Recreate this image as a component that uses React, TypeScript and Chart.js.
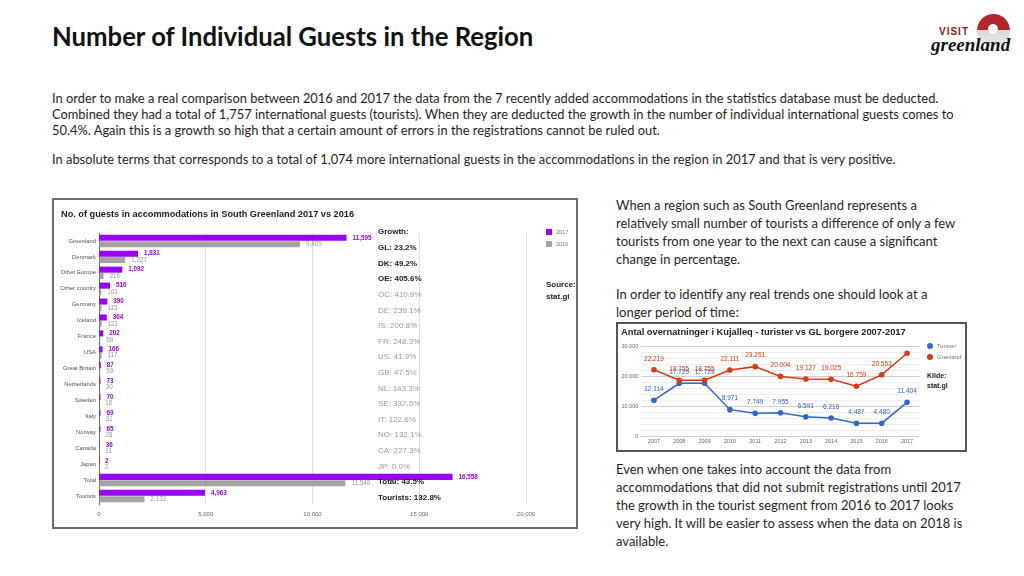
import React, { useEffect, useRef } from 'react';
import { Chart, registerables } from 'chart.js';

Chart.register(...registerables);

// ---------- Left chart data ----------
const guestCategories = [
  'Greenland', 'Denmark', 'Other Europe', 'Other country', 'Germany', 'Iceland', 'France', 'USA',
  'Great Britain', 'Netherlands', 'Sweden', 'Italy', 'Norway', 'Canada', 'Japan', 'Total', 'Tourists',
];
const guests2017 = [11595, 1831, 1092, 516, 390, 364, 202, 166, 87, 73, 70, 69, 65, 36, 2, 16558, 4963];
const guests2016 = [9409, 1227, 216, 101, 115, 121, 58, 117, 59, 30, 16, 31, 28, 11, 2, 11540, 2132];
const guestTicks = [0, 5000, 10000, 15000, 20000];
const growthLabels = [
  'GL: 23.2%', 'DK: 49.2%', 'OE: 405.6%', 'OC: 410.9%', 'DE: 239.1%', 'IS: 200.8%', 'FR: 248.3%',
  'US: 41.9%', 'GB: 47.5%', 'NL: 143.3%', 'SE: 337.5%', 'IT: 122.6%', 'NO: 132.1%', 'CA: 227.3%',
  'JP: 0.0%', 'Total: 43.5%', 'Tourists: 132.8%',
];
const growthHighlighted = [
  true, true, true, false, false, false, false, false, false, false, false, false, false, false, false, true, true,
];

// ---------- Right chart data ----------
const years = ['2007', '2008', '2009', '2010', '2011', '2012', '2013', '2014', '2015', '2016', '2017'];
const turister = [12114, 17729, 17729, 8971, 7749, 7955, 6591, 6216, 4487, 4480, 11404];
const groenland = [22219, 18755, 18755, 22111, 23251, 20004, 19127, 19025, 16759, 20553, 27700];
const groenlandLabelShown = [true, true, true, true, true, true, true, true, true, true, false];
const nightTicks = [0, 10000, 20000, 30000];

const PURPLE = '#9900ff';
const GREY = '#a3a3a3';
const BLUE = '#3366cc';
const RED = '#dc3912';
const CF = 'Arial, "Liberation Sans", sans-serif';

const fmtEn = (v: number) => v.toLocaleString('en-US');
const fmtDa = (v: number) => String(v).replace(/\B(?=(\d{3})+(?!\d))/g, '.');

function GuestsChart() {
  const ref = useRef<HTMLCanvasElement>(null);
  useEffect(() => {
    if (!ref.current) return;
    const barValues = {
      id: 'barValues',
      afterDatasetsDraw(chart: any) {
        const ctx = chart.ctx;
        ctx.save();
        ctx.textBaseline = 'middle';
        ctx.textAlign = 'left';
        chart.data.datasets.forEach((ds: any, di: number) => {
          const meta = chart.getDatasetMeta(di);
          meta.data.forEach((bar: any, i: number) => {
            ctx.fillStyle = di === 0 ? PURPLE : '#9a9a9a';
            ctx.font = (di === 0 ? 'bold ' : '') + '6.3px ' + CF;
            ctx.fillText(fmtEn(ds.data[i]), bar.x + 6, bar.y);
          });
        });
        ctx.restore();
      },
    };
    const annotations = {
      id: 'guestAnnotations',
      afterDraw(chart: any) {
        const ctx = chart.ctx;
        ctx.save();
        ctx.textBaseline = 'middle';
        ctx.textAlign = 'left';
        ctx.fillStyle = '#222';
        ctx.font = 'bold 9.2px ' + CF;
        ctx.fillText('No. of guests in accommodations in South Greenland 2017 vs 2016', 7, 14);
        ctx.font = 'bold 8px ' + CF;
        ctx.fillText('Growth:', 324, 32);
        growthLabels.forEach((g, i) => {
          ctx.fillStyle = growthHighlighted[i] ? '#222' : '#9a9a9a';
          ctx.font = (growthHighlighted[i] ? 'bold ' : '') + '8px ' + CF;
          ctx.fillText(g, 324, 48 + i * 15.6);
        });
        // legend
        const items = [
          { t: '2017', c: PURPLE },
          { t: '2016', c: GREY },
        ];
        items.forEach((it, i) => {
          ctx.fillStyle = it.c;
          ctx.fillRect(492, 29 + i * 12, 6, 6);
          ctx.fillStyle = '#777';
          ctx.font = '5.5px ' + CF;
          ctx.fillText(it.t, 502, 32 + i * 12);
        });
        ctx.fillStyle = '#222';
        ctx.font = 'bold 8px ' + CF;
        ctx.fillText('Source:', 492, 85);
        ctx.fillText('stat.gl', 492, 97);
        ctx.restore();
      },
    };
    const chart = new Chart(ref.current, {
      type: 'bar',
      data: {
        labels: guestCategories,
        datasets: [
          { label: '2017', data: guests2017, backgroundColor: PURPLE, categoryPercentage: 0.8, barPercentage: 0.95 },
          { label: '2016', data: guests2016, backgroundColor: GREY, categoryPercentage: 0.8, barPercentage: 0.95 },
        ],
      },
      options: {
        indexAxis: 'y',
        responsive: false,
        animation: false,
        layout: { padding: { top: 33, right: 50, left: 0, bottom: 0 } },
        plugins: { legend: { display: false }, title: { display: false }, tooltip: { enabled: false } },
        scales: {
          x: {
            min: 0,
            max: 20000,
            afterBuildTicks: (s: any) => { s.ticks = guestTicks.map((v) => ({ value: v })); },
            afterFit: (s: any) => { s.height = 23; },
            ticks: { font: { size: 6, family: CF }, color: '#666', padding: 7, callback: (v: any) => fmtEn(Number(v)) },
            grid: { color: '#e0e0e0', drawTicks: false },
            border: { display: false },
          },
          y: {
            afterFit: (s: any) => { s.width = 45; },
            ticks: { font: { size: 5.9, family: CF }, color: '#555', padding: 3 },
            grid: { display: false, drawTicks: false },
            border: { color: '#666', width: 1 },
          },
        },
      } as any,
      plugins: [barValues, annotations],
    });
    return () => chart.destroy();
  }, []);
  return <canvas ref={ref} width={522} height={327} style={{ display: 'block' }} />;
}

function NightsChart() {
  const ref = useRef<HTMLCanvasElement>(null);
  useEffect(() => {
    if (!ref.current) return;
    const pointValues = {
      id: 'pointValues',
      afterDatasetDraw(chart: any, args: any) {
        const ctx = chart.ctx;
        const ds = chart.data.datasets[args.index];
        ctx.save();
        ctx.textBaseline = 'middle';
        ctx.textAlign = 'center';
        ctx.font = '6.5px ' + CF;
        ctx.fillStyle = ds.borderColor;
        args.meta.data.forEach((pt: any, i: number) => {
          if (ds.showLabel && !ds.showLabel[i]) return;
          ctx.fillText(fmtDa(ds.data[i]), pt.x, pt.y - 11);
        });
        ctx.restore();
      },
    };
    const annotations = {
      id: 'nightAnnotations',
      afterDraw(chart: any) {
        const ctx = chart.ctx;
        ctx.save();
        ctx.textBaseline = 'middle';
        ctx.textAlign = 'left';
        ctx.fillStyle = '#222';
        ctx.font = 'bold 9.3px ' + CF;
        ctx.fillText('Antal overnatninger i Kujalleq - turister vs GL borgere 2007-2017', 3, 8);
        const items = [
          { t: 'Turister', c: BLUE },
          { t: 'Grønland', c: RED },
        ];
        items.forEach((it, i) => {
          ctx.fillStyle = it.c;
          ctx.beginPath();
          ctx.arc(312, 22 + i * 11, 3, 0, Math.PI * 2);
          ctx.fill();
          ctx.fillStyle = '#777';
          ctx.font = '5.8px ' + CF;
          ctx.fillText(it.t, 319, 22 + i * 11);
        });
        ctx.fillStyle = '#222';
        ctx.font = 'bold 7px ' + CF;
        ctx.fillText('Kilde:', 309, 52);
        ctx.fillText('stat.gl', 309, 62);
        ctx.restore();
      },
    };
    const chart = new Chart(ref.current, {
      type: 'line',
      data: {
        labels: years,
        datasets: [
          {
            label: 'Turister', data: turister, borderColor: BLUE, backgroundColor: BLUE,
            borderWidth: 1.5, pointRadius: 2.8, pointBorderWidth: 0, order: 2,
          },
          {
            label: 'Grønland', data: groenland, borderColor: RED, backgroundColor: RED,
            borderWidth: 1.5, pointRadius: 2.8, pointBorderWidth: 0, order: 1, showLabel: groenlandLabelShown,
          } as any,
        ],
      },
      options: {
        responsive: false,
        animation: false,
        layout: { padding: { top: 22.3, right: 45.3, left: 0, bottom: 0 } },
        plugins: { legend: { display: false }, title: { display: false }, tooltip: { enabled: false } },
        scales: {
          x: {
            offset: true,
            afterFit: (s: any) => { s.height = 13.3; },
            ticks: { font: { size: 5.5, family: CF }, color: '#666', padding: 1 },
            grid: { display: false, drawTicks: false },
            border: { display: false },
          },
          y: {
            min: 0,
            max: 30000,
            afterFit: (s: any) => { s.width = 23.3; },
            ticks: {
              stepSize: 2000,
              maxTicksLimit: 100,
              autoSkip: false,
              font: { size: 5.5, family: CF },
              color: '#666',
              padding: 3,
              callback: (v: any) => (nightTicks.includes(Number(v)) ? fmtDa(Number(v)) : ''),
            },
            grid: {
              drawTicks: false,
              color: (c: any) => (c.tick && nightTicks.includes(c.tick.value) ? '#cfcfcf' : '#eeeeee'),
            },
            border: { display: false },
          },
        },
      } as any,
      plugins: [pointValues, annotations],
    });
    return () => chart.destroy();
  }, []);
  return <canvas ref={ref} width={347} height={126} style={{ display: 'block' }} />;
}

const TXT = '#1f1f1f';
const LATO = 'Lato, "Open Sans", sans-serif';

export default function App() {
  const abs = (left: number, top: number, extra: React.CSSProperties = {}): React.CSSProperties => ({
    position: 'absolute', left, top, margin: 0, ...extra,
  });
  return (
    <div style={{ position: 'absolute', left: 0, top: 0, width: 1024, height: 576, background: '#fff', overflow: 'hidden', fontFamily: LATO, color: TXT }}>
      <div style={abs(52, 22, { fontSize: 25.7, fontWeight: 700, lineHeight: '29px', whiteSpace: 'nowrap', color: '#111' })}>
        Number of Individual Guests in the Region
      </div>

      {/* logo */}
      <div style={abs(977, 14, { width: 33, height: 33, borderRadius: '50%', background: 'linear-gradient(to bottom, #b3262c 0%, #b3262c 50%, #d9d9d9 50%, #e8e8e8 100%)' })} />
      <div style={abs(988, 24, { width: 10, height: 10, borderRadius: '50%', background: '#fff' })} />
      <div style={abs(939, 26, { fontSize: 10, fontWeight: 700, letterSpacing: 1, color: '#8e1b22', fontFamily: CF, lineHeight: '12px' })}>VISIT</div>
      <div style={abs(931, 35, { fontSize: 19, fontStyle: 'italic', fontWeight: 700, color: '#111', fontFamily: '"Liberation Serif", serif', lineHeight: '20px', whiteSpace: 'nowrap' })}>greenland</div>

      <div style={abs(52, 89.5, { fontSize: 12.88, lineHeight: '16px', whiteSpace: 'nowrap' })}>
        In order to make a real comparison between 2016 and 2017 the data from the 7 recently added accommodations in the statistics database must be deducted.<br />
        Combined they had a total of 1,757 international guests (tourists). When they are deducted the growth in the number of individual international guests comes to<br />
        50.4%. Again this is a growth so high that a certain amount of errors in the registrations cannot be ruled out.
      </div>
      <div style={abs(52, 151, { fontSize: 12.88, lineHeight: '16px', whiteSpace: 'nowrap' })}>
        In absolute terms that corresponds to a total of 1,074 more international guests in the accommodations in the region in 2017 and that is very positive.
      </div>

      <div style={abs(52, 198, { border: '2px solid #6b6b6b', background: '#fff' })}>
        <GuestsChart />
      </div>

      <div style={abs(616, 195.5, { fontSize: 13, lineHeight: '18px', whiteSpace: 'nowrap' })}>
        When a region such as South Greenland represents a<br />
        relatively small number of tourists a difference of only a few<br />
        tourists from one year to the next can cause a significant<br />
        change in percentage.
      </div>
      <div style={abs(616, 284.5, { fontSize: 13, lineHeight: '18px', whiteSpace: 'nowrap' })}>
        In order to identify any real trends one should look at a<br />
        longer period of time:
      </div>

      <div style={abs(616, 322, { border: '2px solid #555', background: '#fff' })}>
        <NightsChart />
      </div>

      <div style={abs(616, 459.5, { fontSize: 13, lineHeight: '18px', whiteSpace: 'nowrap' })}>
        Even when one takes into account the data from<br />
        accommodations that did not submit registrations until 2017<br />
        the growth in the tourist segment from 2016 to 2017 looks<br />
        very high. It will be easier to assess when the data on 2018 is<br />
        available.
      </div>
    </div>
  );
}
